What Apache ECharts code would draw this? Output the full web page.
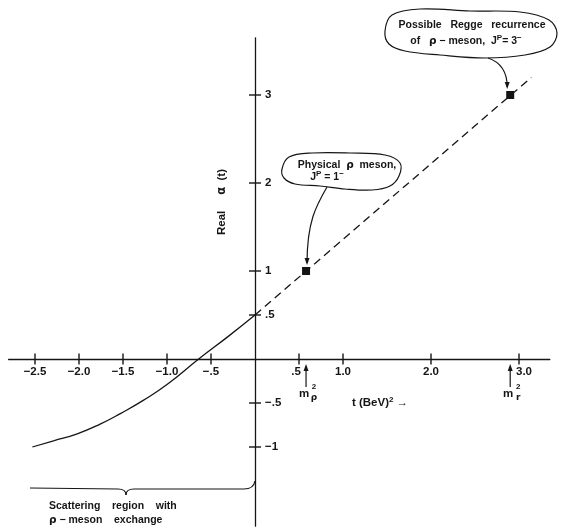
<!DOCTYPE html>
<html><head><meta charset="utf-8">
<script src="https://cdn.jsdelivr.net/npm/echarts@6/dist/echarts.min.js"></script>
<style>html,body{margin:0;padding:0;background:#fff}#c{width:570px;height:529px}</style>
</head><body><div id="c"></div>
<script>
// ---- data ----
const xTicks = [-2.5, -2.0, -1.5, -1.0, -0.5, 0.5, 1.0, 2.0, 3.0];
const xTickLabels = ['\u22122.5', '\u22122.0', '\u22121.5', '\u22121.0', '\u2212.5', '.5', '1.0', '2.0', '3.0'];
const yTicks = [3, 2, 1, 0.5, -0.5, -1];
const yTickLabels = ['3', '2', '1', '.5', '\u2212.5', '\u22121'];
const scatT = [-2.53, -2.29, -2.02, -1.76, -1.53, -1.27, -1.0, -0.64, -0.3, 0];
const scatAlpha = [-1.0, -0.93, -0.85, -0.74, -0.62, -0.47, -0.29, 0, 0.26, 0.5];
const reggeT = [0, 3.14];
const reggeAlpha = [0.5, 3.2];
const mesonT = [0.58, 2.9];
const mesonAlpha = [1.0, 3.0];
const massT = [0.58, 2.9];

const INK = '#151515';
const FONT = 'Liberation Sans';
const chart = echarts.init(document.getElementById('c'));
const axisText = { color: INK, fontSize: 11.5, fontWeight: 'bold', fontFamily: FONT };
// nudge tick labels that sit next to the mass arrows
const labelNudge = v => (Math.abs(v - 0.5) < 1e-6 ? -3 : (Math.abs(v - 3) < 1e-6 ? 5 : 0));

chart.setOption({
  animation: false,
  backgroundColor: '#fff',
  grid: { left: 8.6, right: 20.2, top: 37.8, bottom: 2.8 },
  xAxis: {
    type: 'value', min: -2.8, max: 3.35,
    axisLine: { show: true, onZero: true, lineStyle: { color: INK, width: 1.3 } },
    axisTick: { show: false }, splitLine: { show: false }, axisLabel: { show: false }
  },
  yAxis: {
    type: 'value', min: -1.9, max: 3.65,
    axisLine: { show: true, onZero: true, lineStyle: { color: INK, width: 1.3 } },
    axisTick: { show: false }, splitLine: { show: false }, axisLabel: { show: false }
  },
  series: [
    { type: 'line', data: scatT.map((t, i) => [t, scatAlpha[i]]), smooth: 0.5, symbol: 'none',
      lineStyle: { color: INK, width: 1.3 }, silent: true },
    { type: 'line', data: reggeT.map((t, i) => [t, reggeAlpha[i]]), symbol: 'none',
      lineStyle: { color: INK, width: 1.3, type: [8, 5] }, silent: true },
    { type: 'scatter', data: mesonT.map((t, i) => [t, mesonAlpha[i]]), symbol: 'rect', symbolSize: 8,
      itemStyle: { color: INK, opacity: 1 }, silent: true },
    { type: 'scatter', data: xTicks.map(v => ({ value: [v, 0], label: { offset: [labelNudge(v), 0] } })),
      symbol: 'rect', symbolSize: [1.4, 11],
      itemStyle: { color: INK, opacity: 1 }, silent: true,
      label: Object.assign({ show: true, position: 'bottom', distance: 1, formatter: p => xTickLabels[p.dataIndex] }, axisText) },
    { type: 'scatter', data: yTicks.map(v => [0, v]), symbol: 'rect', symbolSize: [12, 1.4],
      itemStyle: { color: INK, opacity: 1 }, silent: true,
      label: Object.assign({ show: true, position: 'right', distance: 4, formatter: p => yTickLabels[p.dataIndex] }, axisText) }
  ]
});

const P = (x, y) => chart.convertToPixel({ gridIndex: 0 }, [x, y]);
const m1 = P(mesonT[0], mesonAlpha[0]);
const m2 = P(mesonT[1], mesonAlpha[1]);
const ax0 = P(0, 0);
const txt = (x, y, text, extra, rot) => ({
  type: 'text', x, y, silent: true, rotation: rot || 0,
  style: Object.assign({ text, fill: INK, fontSize: 10.5, fontWeight: 'bold', fontFamily: FONT,
    align: 'center', verticalAlign: 'middle',
    rich: {
      n: { fontSize: 10.5, fontWeight: 'bold', fontFamily: FONT, fill: INK, lineHeight: 14 },
      b: { fontSize: 11.5, fontWeight: 'bold', fontFamily: FONT, fill: INK, lineHeight: 15 },
      sup: { fontSize: 8, fontWeight: 'bold', fontFamily: FONT, fill: INK, verticalAlign: 'top', lineHeight: 8 },
      g: { fontSize: 10.5, fontWeight: 'bold', fontFamily: 'DejaVu Sans', fill: INK, lineHeight: 14 },
      gb: { fontSize: 11.5, fontWeight: 'bold', fontFamily: 'DejaVu Sans', fill: INK, lineHeight: 15 }
    } }, extra || {})
});
const stroke = { stroke: INK, lineWidth: 1.2, fill: 'none' };
const head = (x, y, dir) => ({ type: 'polygon', silent: true, shape: { points: [[x, y], [x - 2.5, y - 7 * dir], [x + 2.5, y - 7 * dir]] }, style: { fill: INK } });
const elems = [];
// bubble 1
elems.push({ type: 'polygon', silent: true, shape: { smooth: 0.35, points: [[282, 169], [289, 157], [312, 153], [350, 153], [385, 155], [400, 163], [399, 176], [390, 186], [372, 190], [345, 189], [320, 186], [295, 184], [284, 178]] }, style: stroke });
elems.push(txt(347, 165, '{n|Physical  }{g|\u03c1}{n|  meson,}'));
elems.push(txt(327, 177, '{n|J}{sup|P}{n| = 1}{sup|\u2212}'));
elems.push({ type: 'bezierCurve', silent: true, shape: { x1: 327, y1: 187, cpx1: 316, cpy1: 206, cpx2: m1[0] + 1, cpy2: 222, x2: m1[0] + 1, y2: m1[1] - 8 }, style: stroke });
elems.push(head(m1[0] + 1, m1[1] - 6, 1));
// bubble 2
elems.push({ type: 'polygon', silent: true, shape: { smooth: 0.35, points: [[385, 31], [392, 15], [420, 9], [470, 11], [520, 12], [549, 20], [557, 33], [550, 47], [525, 55], [485, 58], [440, 55], [405, 51], [389, 44]] }, style: stroke });
elems.push(txt(472, 25, '{n|Possible   Regge   recurrence}'));
elems.push(txt(466, 41, '{n|of   }{g|\u03c1}{n| \u2212 meson,  J}{sup|P}{n|= 3}{sup|\u2212}'));
elems.push({ type: 'bezierCurve', silent: true, shape: { x1: 488, y1: 58, cpx1: 500, cpy1: 62, cpx2: m2[0] - 3, cpy2: 70, x2: m2[0] - 3, y2: m2[1] - 8 }, style: stroke });
elems.push(head(m2[0] - 3, m2[1] - 6, 1));
// mass arrows under axis
massT.forEach((t, i) => {
  const p = P(t, 0);
  elems.push({ type: 'line', silent: true, shape: { x1: p[0], y1: p[1] + 8, x2: p[0], y2: p[1] + 28 }, style: stroke });
  elems.push(head(p[0], p[1] + 5, -1));
  elems.push(txt(p[0] - 2, p[1] + 35, '{b|m}'));
  elems.push(txt(p[0] + 8, p[1] + 28, '2', { fontSize: 8 }));
  elems.push(txt(p[0] + 8, p[1] + 39, i === 0 ? '\u03c1' : 'r', { fontSize: 9, fontFamily: 'DejaVu Sans' }));
});
// axis titles
elems.push(txt(380, 403, '{b|t (BeV)}{sup|2}{b| \u2192}'));
elems.push(txt(222, 202, '{b|Real     }{gb|\u03b1}{b|  (t)}', null, Math.PI / 2));
// brace
const by = 489;
elems.push({ type: 'polyline', silent: true, shape: { points: [[30, by - 1], [118, by]] }, style: stroke });
elems.push({ type: 'bezierCurve', silent: true, shape: { x1: 118, y1: by, cpx1: 124, cpy1: by, cpx2: 126, cpy2: by + 2, x2: 126, y2: by + 6 }, style: stroke });
elems.push({ type: 'bezierCurve', silent: true, shape: { x1: 134, y1: by, cpx1: 128, cpy1: by, cpx2: 126, cpy2: by + 2, x2: 126, y2: by + 6 }, style: stroke });
elems.push({ type: 'polyline', silent: true, shape: { points: [[134, by], [244, by]] }, style: stroke });
elems.push({ type: 'bezierCurve', silent: true, shape: { x1: 244, y1: by, cpx1: 250, cpy1: by, cpx2: ax0[0] - 1, cpy2: by - 2, x2: ax0[0], y2: by - 8 }, style: stroke });
elems.push(txt(49, 506, '{n|Scattering    region    with}', { align: 'left' }));
elems.push(txt(49, 520, '{g|\u03c1}{n| \u2212 meson    exchange}', { align: 'left' }));

chart.setOption({ graphic: { elements: elems } });
</script>
</body></html>
